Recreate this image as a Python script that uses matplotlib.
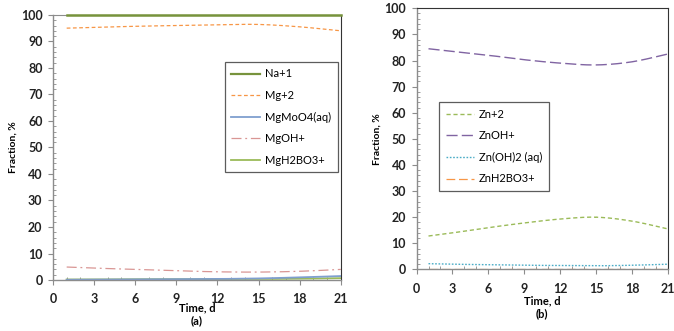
import numpy as np
import matplotlib.pyplot as plt
from matplotlib.ticker import MultipleLocator

plt.rcParams["font.family"] = ["Lato", "DejaVu Sans"]

days = [1, 3, 6, 9, 12, 15, 18, 21]

# panel (a)
na1 = [100, 100, 100, 100, 100, 100, 100, 100]
mg2 = [95.0, 95.3, 95.7, 96.0, 96.3, 96.4, 95.5, 94.0]
mgmoo4 = [0.1, 0.15, 0.2, 0.3, 0.4, 0.6, 1.0, 1.5]
mgoh = [4.9, 4.5, 4.0, 3.5, 3.1, 3.0, 3.3, 4.0]
mgh2bo3 = [0.2, 0.2, 0.3, 0.3, 0.4, 0.4, 0.5, 0.7]

# panel (b)
zn2 = [12.8, 14.0, 16.0, 17.8, 19.3, 20.0, 18.5, 15.5]
znoh = [84.5, 83.5, 82.0, 80.3, 79.0, 78.3, 79.5, 82.5]
znoh2 = [2.2, 2.0, 1.8, 1.6, 1.5, 1.4, 1.6, 2.0]
znh2bo3 = [0.1, 0.1, 0.1, 0.1, 0.1, 0.1, 0.1, 0.1]

fig = plt.figure(figsize=(6.74, 3.31), dpi=100)
ax_a = fig.add_axes([0.0786, 0.154, 0.427, 0.801])
ax_b = fig.add_axes([0.618, 0.186, 0.373, 0.789])


def smooth(x, y):
    # catmull-rom style smoothing like excel's smoothed lines
    x = np.asarray(x, float)
    y = np.asarray(y, float)
    xs, ys = [], []
    for i in range(len(x) - 1):
        p0 = np.array([x[max(i - 1, 0)], y[max(i - 1, 0)]])
        p1 = np.array([x[i], y[i]])
        p2 = np.array([x[i + 1], y[i + 1]])
        p3 = np.array([x[min(i + 2, len(x) - 1)], y[min(i + 2, len(x) - 1)]])
        t = np.linspace(0, 1, 20)[:, None]
        pts = 0.5 * ((2 * p1) + (-p0 + p2) * t + (2 * p0 - 5 * p1 + 4 * p2 - p3) * t**2
                     + (-p0 + 3 * p1 - 3 * p2 + p3) * t**3)
        xs.extend(pts[:, 0])
        ys.extend(pts[:, 1])
    return xs, ys


def style_axes(ax, top_color, xpad):
    ax.set_xlim(0, 21)
    ax.set_ylim(0, 100)
    ax.xaxis.set_major_locator(MultipleLocator(3))
    ax.xaxis.set_minor_locator(MultipleLocator(1))
    ax.yaxis.set_major_locator(MultipleLocator(10))
    ax.yaxis.set_minor_locator(MultipleLocator(2))
    for s in ["left", "bottom"]:
        ax.spines[s].set_color("#8c8c8c")
        ax.spines[s].set_linewidth(1.0)
    ax.spines["top"].set_color(top_color)
    ax.spines["right"].set_color("#333333")
    ax.tick_params(which="major", direction="out", length=3.5, width=0.8, color="#8c8c8c",
                   labelsize=9, pad=4)
    ax.tick_params(axis="x", which="major", pad=xpad)
    ax.tick_params(which="minor", direction="in", length=2.5, width=0.6, color="#8c8c8c")
    ax.tick_params(top=False, right=False)
    for lab in ax.get_xticklabels() + ax.get_yticklabels():
        lab.set_fontweight("bold")
        lab.set_color("#222222")
    ax.set_ylabel("Fraction, %", fontsize=7.5, fontweight="bold", labelpad=2)


style_axes(ax_a, "#8c8c8c", 5.5)
style_axes(ax_b, "#333333", 6.5)

ax_a.plot(*smooth(days, mgh2bo3), color="#9BBB59", lw=1.3)
ax_a.plot(*smooth(days, mgmoo4), color="#7F9FCF", lw=1.3)
ax_a.plot(*smooth(days, mgoh), color="#D99694", lw=0.9, dashes=(8, 3, 1.5, 3))
ax_a.plot(*smooth(days, mg2), color="#F79646", lw=0.9, dashes=(3, 2))
ax_a.plot(*smooth(days, na1), color="#77933C", lw=1.8, clip_on=False, zorder=5)

# legend handles in original order
h = []
h += ax_a.plot([], [], color="#77933C", lw=1.6, label="Na+1")
h += ax_a.plot([], [], color="#F79646", lw=0.9, dashes=(3, 2), label="Mg+2")
h += ax_a.plot([], [], color="#7F9FCF", lw=1.3, label="MgMoO4(aq)")
h += ax_a.plot([], [], color="#D99694", lw=0.9, dashes=(8, 3, 1.5, 3), label="MgOH+")
h += ax_a.plot([], [], color="#9BBB59", lw=1.3, label="MgH2BO3+")
leg = ax_a.legend(handles=h, loc="upper left", bbox_to_anchor=(0.597, 0.823), fontsize=8,
                  frameon=True, fancybox=False, edgecolor="#333333", handlelength=2.6,
                  labelspacing=0.95, borderpad=0.6, handletextpad=0.4, borderaxespad=0)
leg.get_frame().set_linewidth(0.9)

ax_b.plot(*smooth(days, znh2bo3), color="#F79646", lw=0.9, dashes=(7, 3))
ax_b.plot(*smooth(days, znoh2), color="#4BACC6", lw=1.0, dashes=(1.2, 1.2))
ax_b.plot(*smooth(days, zn2), color="#9BBB59", lw=1.0, dashes=(3, 2))
ax_b.plot(*smooth(days, znoh), color="#8064A2", lw=1.0, dashes=(8, 3))

hb = []
hb += ax_b.plot([], [], color="#9BBB59", lw=1.0, dashes=(3, 2), label="Zn+2")
hb += ax_b.plot([], [], color="#8064A2", lw=1.0, dashes=(8, 3), label="ZnOH+")
hb += ax_b.plot([], [], color="#4BACC6", lw=1.0, dashes=(1.2, 1.2), label="Zn(OH)2 (aq)")
hb += ax_b.plot([], [], color="#F79646", lw=0.9, dashes=(7, 3), label="ZnH2BO3+")
legb = ax_b.legend(handles=hb, loc="upper left", bbox_to_anchor=(0.089, 0.641), fontsize=8,
                   frameon=True, fancybox=False, edgecolor="#333333", handlelength=2.6,
                   labelspacing=0.95, borderpad=0.6, handletextpad=0.4, borderaxespad=0)
legb.get_frame().set_linewidth(0.9)

fig.text(197 / 674, 1 - 308 / 331, "Time, d", ha="center", va="center", fontsize=8,
         fontweight="bold")
fig.text(197 / 674, 1 - 321 / 331, "(a)", ha="center", va="center", fontsize=8,
         fontweight="bold")
fig.text(542 / 674, 1 - 301 / 331, "Time, d", ha="center", va="center", fontsize=8,
         fontweight="bold")
fig.text(542 / 674, 1 - 314 / 331, "(b)", ha="center", va="center", fontsize=8,
         fontweight="bold")

fig.savefig("out.png", dpi=100)
